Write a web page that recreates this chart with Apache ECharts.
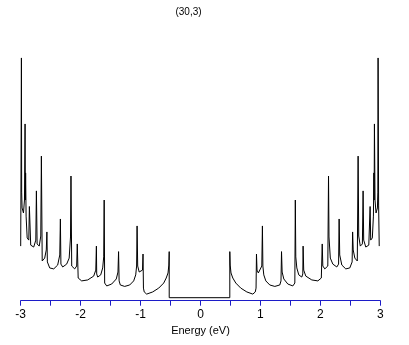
<!DOCTYPE html>
<html>
<head>
<meta charset="utf-8">
<script src="https://cdn.jsdelivr.net/npm/echarts@6/dist/echarts.min.js"></script>
<style>
html,body{margin:0;padding:0;background:#fff;}
#c{width:409px;height:345px;}
</style>
</head>
<body>
<div id="c"></div>
<script>
// Valence side (E < 0), energy in eV, DOS arbitrary units
var leftEnergy = [-3.000, -2.997, -2.988, -2.984, -2.977, -2.954, -2.937, -2.927, -2.922, -2.918, -2.910, -2.892, -2.865, -2.855, -2.833, -2.783, -2.748, -2.738, -2.726, -2.691, -2.665, -2.655, -2.641, -2.600, -2.573, -2.563, -2.555, -2.516, -2.449, -2.383, -2.348, -2.338, -2.329, -2.299, -2.233, -2.191, -2.169, -2.161, -2.149, -2.099, -2.066, -2.056, -2.041, -1.983, -1.882, -1.782, -1.747, -1.737, -1.732, -1.715, -1.665, -1.632, -1.615, -1.607, -1.599, -1.565, -1.482, -1.405, -1.377, -1.367, -1.358, -1.338, -1.265, -1.181, -1.115, -1.081, -1.066, -1.058, -1.048, -1.023, -0.990, -0.968, -0.959, -0.952, -0.939, -0.898, -0.798, -0.697, -0.614, -0.572, -0.542, -0.528, -0.522];
var leftDos = [2.15, 3.86, 9.99, 4.40, 3.74, 3.53, 4.07, 7.24, 4.07, 5.20, 3.40, 2.49, 2.40, 3.80, 2.19, 2.11, 2.40, 4.45, 2.24, 2.15, 2.57, 5.90, 1.53, 1.65, 1.99, 2.74, 1.49, 1.24, 1.20, 1.36, 1.78, 3.28, 1.40, 1.28, 1.40, 1.65, 2.53, 5.07, 1.32, 1.20, 1.32, 2.24, 0.82, 0.70, 0.74, 0.90, 1.15, 2.15, 0.99, 0.86, 0.95, 1.24, 1.70, 4.07, 0.61, 0.49, 0.57, 0.78, 1.07, 1.92, 0.70, 0.53, 0.47, 0.53, 0.70, 0.95, 1.32, 2.99, 1.32, 1.07, 1.03, 1.15, 1.82, 0.40, 0.24, 0.15, 0.24, 0.40, 0.61, 0.82, 1.03, 1.36, 1.92];
// Band gap
var gapEnergy = [-0.522, 0.489];
var gapDos = [0, 0];
// Conduction side (E > 0)
var rightEnergy = [0.489, 0.495, 0.509, 0.539, 0.589, 0.672, 0.773, 0.873, 0.914, 0.927, 0.934, 0.943, 0.965, 0.998, 1.023, 1.033, 1.041, 1.056, 1.090, 1.156, 1.240, 1.323, 1.343, 1.352, 1.362, 1.390, 1.457, 1.540, 1.574, 1.582, 1.590, 1.607, 1.640, 1.690, 1.707, 1.712, 1.722, 1.757, 1.857, 1.958, 2.016, 2.031, 2.041, 2.074, 2.124, 2.136, 2.144, 2.166, 2.208, 2.274, 2.304, 2.313, 2.323, 2.358, 2.424, 2.491, 2.530, 2.538, 2.548, 2.575, 2.616, 2.630, 2.640, 2.666, 2.701, 2.713, 2.723, 2.758, 2.808, 2.830, 2.840, 2.867, 2.885, 2.893, 2.897, 2.902, 2.912, 2.929, 2.952, 2.959, 2.963, 2.972, 2.982];
var rightDos = [1.92, 1.36, 1.03, 0.82, 0.61, 0.40, 0.24, 0.15, 0.24, 0.40, 1.82, 1.15, 1.03, 1.07, 1.32, 2.99, 1.32, 0.95, 0.70, 0.53, 0.47, 0.53, 0.70, 1.92, 1.07, 0.78, 0.57, 0.49, 0.61, 4.07, 1.70, 1.24, 0.95, 0.86, 0.99, 2.15, 1.15, 0.90, 0.74, 0.70, 0.82, 2.24, 1.32, 1.20, 1.32, 5.07, 2.53, 1.65, 1.40, 1.28, 1.40, 3.28, 1.78, 1.36, 1.20, 1.24, 1.49, 2.74, 1.99, 1.65, 1.53, 5.90, 2.57, 2.15, 2.24, 4.45, 2.40, 2.11, 2.19, 3.80, 2.40, 2.49, 3.40, 5.20, 4.07, 7.24, 4.07, 3.53, 3.74, 4.40, 9.99, 3.86, 2.15];

var titleText = '(30,3)';
var xName = 'Energy (eV)';
var xMin = -3, xMax = 3, xStep = 1;

var energy = leftEnergy.concat(gapEnergy, rightEnergy);
var dos = leftDos.concat(gapDos, rightDos);
var pts = energy.map(function (e, i) { return [e, dos[i]]; });

var chart = echarts.init(document.getElementById('c'), null, {renderer: 'canvas'});
chart.setOption({
  animation: false,
  backgroundColor: '#ffffff',
  title: {
    text: titleText,
    left: 183.5,
    top: 2,
    textAlign: 'center',
    textStyle: {fontFamily: 'Liberation Sans', fontSize: 10, fontWeight: 'normal', color: '#000'}
  },
  grid: {left: 20.7, right: 28.7, top: 55.3, bottom: 44.3},
  xAxis: {
    type: 'value',
    min: xMin, max: xMax, interval: xStep,
    name: xName,
    nameLocation: 'middle',
    nameGap: 24,
    nameTextStyle: {fontFamily: 'Liberation Sans', fontSize: 11, color: '#000'},
    axisLine: {show: true, onZero: false, lineStyle: {color: '#1c1cc8', width: 1}},
    axisTick: {show: true, inside: false, length: 5, lineStyle: {color: '#1c1cc8'}},
    minorTick: {show: true, splitNumber: 2, length: 5, lineStyle: {color: '#1c1cc8'}},
    axisLabel: {fontFamily: 'Liberation Sans', fontSize: 12, color: '#000', margin: 8},
    splitLine: {show: false}
  },
  yAxis: {
    type: 'value',
    min: -0.125, max: 10.1,
    show: false,
    splitLine: {show: false}
  },
  series: [{
    type: 'line',
    data: pts,
    showSymbol: false,
    symbol: 'none',
    lineStyle: {color: '#000', width: 1},
    clip: true
  }]
});
</script>
</body>
</html>
